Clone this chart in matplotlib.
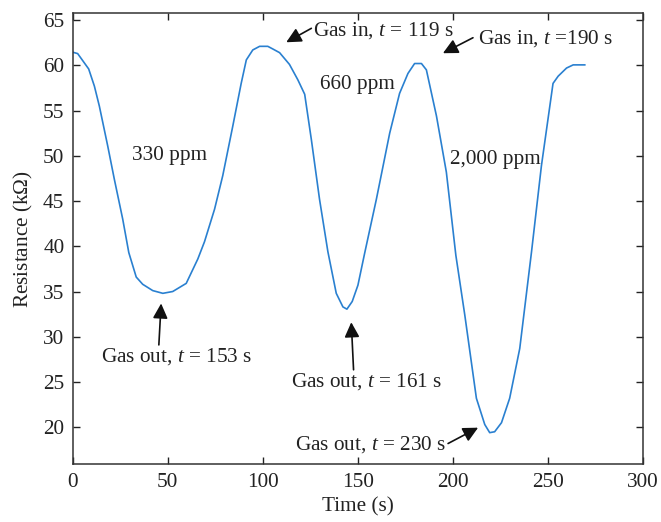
import matplotlib
matplotlib.use("Agg")
import matplotlib.pyplot as plt

plt.rcParams['font.family'] = ['Liberation Serif', 'DejaVu Serif']
plt.rcParams['mathtext.fontset'] = 'custom'
plt.rcParams['mathtext.rm'] = 'Liberation Serif'
plt.rcParams['mathtext.it'] = 'Liberation Serif:italic'

# Resistance response curve
time_s = [0, 2.6, 8.4, 11.4, 14, 18.4, 21.9, 26.3, 29.5, 33.4, 36.8, 42.1, 47.4, 52.6,
          59.7, 65.8, 69.3, 74.6, 78.9, 84.2, 88.6, 91.3, 94.7, 98.3, 102.6, 105.3,
          108.8, 114, 118.4, 122, 125.5, 129.8, 134.2, 138.6, 142.1, 144.2, 147, 150,
          153.5, 159.7, 166.7, 171.9, 176.3, 179.8, 183.4, 186, 191.3, 196.5, 201.5,
          206.2, 212.3, 216.7, 219.3, 221.9, 225.5, 229.8, 235.1, 241.3, 246.5, 252.6,
          255.3, 259.7, 263.2, 269.3]
resistance = [61.45, 61.3, 59.6, 57.7, 55.5, 51.1, 47.4, 43.0, 39.3, 36.6, 35.8, 35.1,
              34.8, 35.0, 35.9, 38.6, 40.5, 44.1, 47.8, 53.3, 58.0, 60.6, 61.7, 62.1,
              62.1, 61.8, 61.4, 60.1, 58.4, 56.8, 51.8, 45.2, 39.4, 34.8, 33.3, 33.05,
              33.9, 35.7, 39.2, 45.2, 52.5, 56.9, 59.1, 60.2, 60.2, 59.5, 54.4, 48.2,
              39.0, 32.4, 23.2, 20.3, 19.4, 19.5, 20.5, 23.2, 28.7, 39.4, 48.9, 58.0,
              58.8, 59.7, 60.05, 60.05]

x_ticks = [0, 50, 100, 150, 200, 250, 300]
y_ticks = [20, 25, 30, 35, 40, 45, 50, 55, 60, 65]

# Annotation texts: (label, x, y)
labels = [
    ("Gas in, $t$ = 119 s", 126.2, 63.9),
    ("Gas in, $t$ =190 s", 213.0, 63.0),
    ("660 ppm", 129.8, 57.86),
    ("330 ppm", 31.4, 50.05),
    ("2,000 ppm", 198.3, 49.6),
    ("Gas out, $t$ = 153 s", 14.9, 27.86),
    ("Gas out, $t$ = 161 s", 115.0, 25.1),
    ("Gas out, $t$ = 230 s", 116.7, 18.1),
]
# Arrows: (tip_x, tip_y, tail_x, tail_y)
arrows = [
    (112.3, 62.55, 125.5, 64.09),
    (194.7, 61.34, 210.5, 63.05),
    (46.5, 33.68, 45.3, 29.1),
    (146.5, 31.6, 147.7, 26.35),
    (213.2, 19.95, 197.4, 18.2),
]

FS = 15.3
fig = plt.figure(figsize=(6.61, 5.22), dpi=100)
ax = fig.add_axes([0.11, 0.1105, 0.863, 0.864])
ax.plot(time_s, resistance, color='#2a80d0', lw=1.2)
ax.set_xlim(0, 300)
ax.set_ylim(15.9, 65.75)
ax.set_xticks(x_ticks)
ax.set_yticks(y_ticks)
ax.tick_params(direction='in', top=True, right=True, length=5, width=1,
               labelsize=FS, colors='#222222', pad=6)
for sp in ax.spines.values():
    sp.set_color('#333333')
    sp.set_linewidth(1.1)
ax.set_xlabel('Time (s)', fontsize=FS, color='#222222', labelpad=4)
ax.set_ylabel('Resistance (k$\\Omega$)', fontsize=FS, color='#222222', labelpad=6)

for txt, x, y in labels:
    ax.text(x, y, txt, fontsize=FS, color='#222222', ha='left', va='center')
for tx, ty, sx, sy in arrows:
    ax.annotate('', xy=(tx, ty), xytext=(sx, sy),
                arrowprops=dict(arrowstyle='-|>,head_length=0.9,head_width=0.45',
                                color='#111111', lw=1.2, shrinkA=0, shrinkB=0))

fig.savefig('out.png', dpi=100)
